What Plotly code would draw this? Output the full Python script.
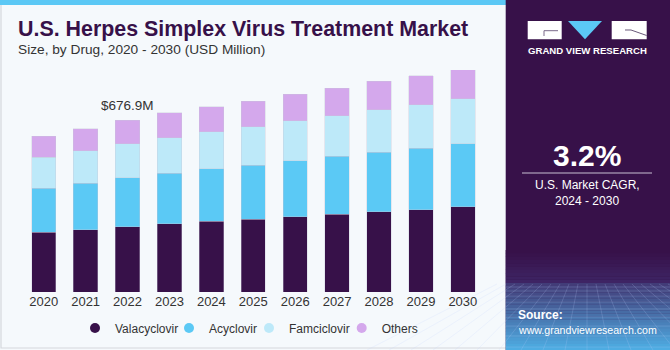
import plotly.graph_objects as go

years = [2020, 2021, 2022, 2023, 2024, 2025, 2026, 2027, 2028, 2029, 2030]
valacyclovir = [235.3, 245.6, 257.4, 269.2, 278.7, 286.6, 296.8, 306.3, 316.5, 324.4, 335.1]
acyclovir = [173.4, 182.9, 193.2, 198.7, 207.3, 212.9, 220.8, 228.6, 235.3, 242.0, 248.4]
famciclovir = [123.4, 127.3, 134.0, 140.3, 145.9, 151.0, 156.5, 160.0, 166.7, 170.7, 177.4]
others = [81.6, 86.7, 92.3, 97.4, 98.6, 101.3, 105.3, 108.0, 112.0, 114.3, 117.1]
series_names = ["Valacyclovir", "Acyclovir", "Famciclovir", "Others"]
colors = ["#371149", "#5bc9f5", "#bde9f9", "#d4a8ec"]
highlight_label = "$676.9M"
highlight_year = 2022

W, H = 670, 350
def px(x):
    return x / W
def py(y):
    return 1 - y / H

fig = go.Figure()
for name, vals, col in zip(series_names, [valacyclovir, acyclovir, famciclovir, others], colors):
    fig.add_trace(go.Bar(x=years, y=vals, name=name,
                         marker=dict(color=col, line=dict(color="rgba(200,200,215,0.6)", width=0.6)),
                         showlegend=False, hoverinfo="skip"))

# legend entries (circle markers) on a separate hidden axis pair
legend_ids = ["legend", "legend2", "legend3", "legend4"]
for name, col, lid in zip(series_names, colors, legend_ids):
    fig.add_trace(go.Scatter(x=[None], y=[None], mode="markers", name=name, xaxis="x2", yaxis="y2",
                             marker=dict(symbol="circle", size=10, color=col), showlegend=True, legend=lid))

totals = [a + b + cc + d for a, b, cc, d in zip(valacyclovir, acyclovir, famciclovir, others)]
hi = years.index(highlight_year)

def lerp(c0, c1, t):
    return "rgb(%d,%d,%d)" % tuple(round(a + (b - a) * t) for a, b in zip(c0, c1))

shapes = []
shapes.append(dict(type="rect", xref="paper", yref="paper", x0=px(1), x1=px(510), y0=py(348), y1=py(2),
                   fillcolor="#f5f9fc", line=dict(color="#d5d8dc", width=1.2), layer="below"))
shapes.append(dict(type="rect", xref="paper", yref="paper", x0=0, x1=px(506), y0=py(5), y1=1,
                   fillcolor="#5bc8f5", line=dict(width=0), layer="below"))
shapes.append(dict(type="rect", xref="paper", yref="paper", x0=px(505.7), x1=1, y0=0, y1=1,
                   fillcolor="#371149", line=dict(width=0), layer="below"))
# upper soft gradient
n = 10
for i in range(n):
    y0p = 250 + i * 3.3
    shapes.append(dict(type="rect", xref="paper", yref="paper", x0=px(505.7), x1=1, y0=py(y0p + 3.4), y1=py(y0p),
                       fillcolor=lerp((55, 17, 73), (62, 36, 100), i / (n - 1)), line=dict(width=0), layer="below"))
# lower gradient below horizon
n = 22
for i in range(n):
    y0p = 283 + i * (67 / n)
    shapes.append(dict(type="rect", xref="paper", yref="paper", x0=px(505.7), x1=1, y0=py(y0p + 67 / n + 0.3), y1=py(y0p),
                       fillcolor=lerp((66, 60, 120), (78, 172, 226), i / (n - 1)), line=dict(width=0), layer="below"))
# perspective grid
for k in range(-10, 11):
    xtop = 587 + k * 9
    xbot = 587 + k * 22
    shapes.append(dict(type="line", xref="paper", yref="paper", x0=px(xtop), x1=px(xbot), y0=py(284), y1=py(350),
                       line=dict(color="rgba(190,210,255,0.28)", width=0.7), layer="below"))
for yy in [287, 291, 296, 302, 309, 317, 326, 336, 347]:
    shapes.append(dict(type="line", xref="paper", yref="paper", x0=px(505.7), x1=1, y0=py(yy), y1=py(yy),
                       line=dict(color="rgba(190,210,255,0.28)", width=0.7), layer="below"))
# logo
shapes.append(dict(type="rect", xref="paper", yref="paper", x0=px(527.7), x1=px(561.7), y0=py(39.3), y1=py(21),
                   fillcolor="white", line=dict(width=0)))
shapes.append(dict(type="line", xref="paper", yref="paper", x0=px(544), x1=px(558), y0=py(30.7), y1=py(30.7),
                   line=dict(color="#7a6a8a", width=1)))
shapes.append(dict(type="line", xref="paper", yref="paper", x0=px(544), x1=px(544), y0=py(30.7), y1=py(36),
                   line=dict(color="#7a6a8a", width=1)))
shapes.append(dict(type="path", xref="paper", yref="paper",
                   path="M %f,%f L %f,%f L %f,%f Z" % (px(568), py(21), px(602), py(21), px(585), py(39.3)),
                   fillcolor="#5bc8f5", line=dict(width=0)))
shapes.append(dict(type="rect", xref="paper", yref="paper", x0=px(611.7), x1=px(646.7), y0=py(39.3), y1=py(21),
                   fillcolor="white", line=dict(width=0)))
shapes.append(dict(type="path", xref="paper", yref="paper",
                   path="M %f,%f L %f,%f L %f,%f" % (px(625), py(30), px(631), py(30), px(646.7), py(35.5)),
                   line=dict(color="#6a5a7a", width=1)))
shapes.append(dict(type="line", xref="paper", yref="paper", x0=px(522), x1=px(652), y0=py(173), y1=py(173),
                   line=dict(color="#c9c0d3", width=1)))

annotations = [
    dict(text="<b>U.S. Herpes Simplex Virus Treatment Market</b>", x=px(16), y=py(29), xref="paper", yref="paper",
         xanchor="left", yanchor="middle", showarrow=False,
         font=dict(family="Liberation Sans", size=21.4, color="#371149")),
    dict(text="Size, by Drug, 2020 - 2030 (USD Million)", x=px(16), y=py(50), xref="paper", yref="paper",
         xanchor="left", yanchor="middle", showarrow=False,
         font=dict(family="Liberation Sans", size=13.7, color="#333333")),
    dict(text=highlight_label, x=highlight_year, y=totals[hi], xref="x", yref="y", yshift=5,
         xanchor="center", yanchor="bottom", showarrow=False,
         font=dict(family="Liberation Sans", size=13.5, color="#333333")),
    dict(text="<b>GRAND VIEW RESEARCH</b>", x=px(587.2), y=py(51), xref="paper", yref="paper",
         xanchor="center", yanchor="middle", showarrow=False,
         font=dict(family="Liberation Sans", size=9.6, color="white")),
    dict(text="<b>3.2%</b>", x=px(587), y=py(155), xref="paper", yref="paper",
         xanchor="center", yanchor="middle", showarrow=False,
         font=dict(family="Liberation Sans", size=30, color="white")),
    dict(text="U.S. Market CAGR,", x=px(587), y=py(185), xref="paper", yref="paper",
         xanchor="center", yanchor="middle", showarrow=False,
         font=dict(family="Liberation Sans", size=12, color="white")),
    dict(text="2024 - 2030", x=px(587), y=py(201), xref="paper", yref="paper",
         xanchor="center", yanchor="middle", showarrow=False,
         font=dict(family="Liberation Sans", size=12, color="white")),
    dict(text="<b>Source:</b>", x=px(516), y=py(315), xref="paper", yref="paper",
         xanchor="left", yanchor="middle", showarrow=False,
         font=dict(family="Liberation Sans", size=12, color="white")),
    dict(text="www.grandviewresearch.com", x=px(516), y=py(330), xref="paper", yref="paper",
         xanchor="left", yanchor="middle", showarrow=False,
         font=dict(family="Liberation Sans", size=10.6, color="white")),
]

legend_font = dict(family="Liberation Sans", size=12, color="#333333")
text_starts = [110, 204, 284, 376.7]
legend_layout = {}
for lid, ts in zip(legend_ids, text_starts):
    legend_layout[lid] = dict(orientation="h", x=px(ts - 40 + 5), xanchor="left", y=py(328), yanchor="middle",
                              font=legend_font, bgcolor="rgba(0,0,0,0)", borderwidth=0)

fig.update_layout(
    width=W, height=H, margin=dict(l=0, r=0, t=0, b=0, pad=0, autoexpand=False),
    paper_bgcolor="#f5f9fc", plot_bgcolor="rgba(0,0,0,0)",
    barmode="stack", bargap=0.42,
    shapes=shapes, annotations=annotations,
    xaxis=dict(type="linear", range=[years[0] - 0.5, years[-1] + 0.5], tickmode="array",
               tickvals=years, ticktext=[str(y) for y in years],
               domain=[px(22.75), px(483.8)], showgrid=False, showline=False, zeroline=False, ticks="",
               automargin=False,
               tickfont=dict(family="Liberation Sans", size=13, color="#333333"), fixedrange=True),
    yaxis=dict(domain=[py(292), py(70)], range=[0, 875], visible=False, fixedrange=True, automargin=False),
    xaxis2=dict(domain=[0, 0.01], visible=False, range=[0, 1], anchor="y2"),
    yaxis2=dict(domain=[0, 0.01], visible=False, range=[0, 1], anchor="x2"),
    showlegend=True,
    **legend_layout,
)

fig.write_html("out.html")
